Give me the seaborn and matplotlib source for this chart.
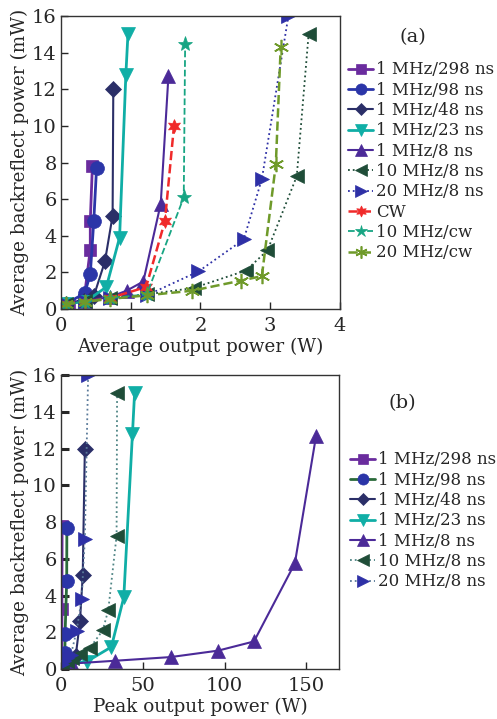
import matplotlib
matplotlib.use("Agg")
import seaborn as sns
from matplotlib import pyplot as plt

sns.set_style("ticks")
plt.rcParams["font.family"] = ["DejaVu Serif"]
plt.rcParams["font.size"] = 12
plt.rcParams["xtick.direction"] = "in"
plt.rcParams["ytick.direction"] = "in"

LABELS = ["1 MHz/298 ns", "1 MHz/98 ns", "1 MHz/48 ns", "1 MHz/23 ns", "1 MHz/8 ns",
          "10 MHz/8 ns", "20 MHz/8 ns", "CW", "10 MHz/cw", "20 MHz/cw"]

# (a) average output power (W) vs average backreflect power (mW)
avg_298 = [0.06, 0.12, 0.33, 0.42, 0.42, 0.45]
br_298 = [0.3, 0.3, 0.5, 3.25, 4.8, 7.8]
avg_98 = [0.07, 0.34, 0.42, 0.47, 0.51]
br_98 = [0.3, 0.85, 1.9, 4.8, 7.7]
avg_48 = [0.07, 0.33, 0.47, 0.63, 0.74, 0.75]
br_48 = [0.3, 0.45, 0.7, 2.6, 5.1, 12.0]
avg_23 = [0.07, 0.35, 0.65, 0.84, 0.93, 0.96]
br_23 = [0.3, 0.4, 1.2, 3.9, 12.8, 15.0]
avg_8 = [0.07, 0.34, 0.7, 0.94, 1.18, 1.43, 1.54]
br_8 = [0.3, 0.45, 0.65, 1.0, 1.5, 5.75, 12.7]
avg_10m8 = [0.07, 0.35, 0.7, 1.23, 1.9, 2.65, 2.96, 3.38, 3.55]
br_10m8 = [0.3, 0.45, 0.6, 0.8, 1.15, 2.1, 3.2, 7.25, 15.0]
avg_20m8 = [0.07, 0.35, 0.7, 1.23, 1.97, 2.62, 2.88, 3.26]
br_20m8 = [0.3, 0.45, 0.6, 0.75, 2.05, 3.8, 7.1, 16.0]
avg_cw = [0.07, 0.35, 0.7, 1.22, 1.49, 1.62]
br_cw = [0.3, 0.4, 0.6, 1.2, 4.8, 10.0]
avg_10cw = [0.07, 0.35, 0.7, 1.23, 1.76, 1.78]
br_10cw = [0.3, 0.4, 0.6, 0.8, 6.1, 14.5]
avg_20cw = [0.07, 0.35, 0.7, 1.23, 1.88, 2.58, 2.88, 3.08, 3.15]
br_20cw = [0.25, 0.4, 0.55, 0.75, 1.0, 1.55, 1.8, 7.9, 14.3]

# (b) peak output power (W), same backreflect values
pk_298 = [0.2, 0.4, 0.5, 0.6, 0.6, 0.7]
pk_98 = [0.7, 2.4, 2.5, 3.5, 3.6]
pk_48 = [1.2, 5.7, 9.0, 11.6, 13.3, 14.6]
pk_23 = [3.2, 15.7, 30.8, 38.4, 43.7, 45.0]
pk_8 = [7, 33, 67, 96, 118, 143, 156]
pk_10m8 = [0.7, 3.5, 7.0, 11.5, 17.7, 25.5, 28.9, 34.0, 34.3]
pk_20m8 = [0.35, 1.7, 3.4, 6.0, 9.5, 12.6, 14.6, 16.6]

COLORS = ["#6a2c9e", "#2b35a8", "#2b2f68", "#10aea6", "#4b2a98",
          "#1f4d38", "#2e30a6", "#f02a2a", "#17a583", "#6f9a2a"]
MARKERS = ["s", "o", "D", "v", "^", "<", ">", (6, 1, 0), "*", (6, 2, 0)]
MSIZES = [9, 10, 8, 10, 10, 10, 10, 10, 11, 11]
LSTYLES = ["-", "-", "-", "-", "-", ":", ":", "--", "--", "--"]
LWIDTHS = [2, 2, 1.5, 2, 1.5, 1.3, 1.3, 1.8, 1.3, 1.8]
# line colours used in panel (b) (markers keep COLORS)
LINE_COLORS_B = ["#6a2c9e", "#2a6a3a", "#2b2f68", "#10aea6", "#4b2a98", "#4f8585", "#5a7a9a"]

xs_a = [avg_298, avg_98, avg_48, avg_23, avg_8, avg_10m8, avg_20m8, avg_cw, avg_10cw, avg_20cw]
ys_a = [br_298, br_98, br_48, br_23, br_8, br_10m8, br_20m8, br_cw, br_10cw, br_20cw]
xs_b = [pk_298, pk_98, pk_48, pk_23, pk_8, pk_10m8, pk_20m8]
ys_b = ys_a[:7]

fig = plt.figure(figsize=(4.97, 7.19), dpi=100)
ax_a = fig.add_axes([0.1227, 0.5702, 0.5614, 0.4075])
ax_b = fig.add_axes([0.1227, 0.0695, 0.5594, 0.4089])


def draw(ax, xs, ys, line_colors):
    handles = []
    for i, (x, y) in enumerate(zip(xs, ys)):
        sns.lineplot(x=x, y=y, ax=ax, sort=False, estimator=None,
                     color=line_colors[i], linestyle=LSTYLES[i], linewidth=LWIDTHS[i],
                     marker=MARKERS[i], markersize=MSIZES[i],
                     markerfacecolor=COLORS[i], markeredgecolor=COLORS[i],
                     markeredgewidth=1.2 if i == 9 else 0.5)
        handles.append(ax.lines[-1])
    for s in ax.spines.values():
        s.set_visible(True)
        s.set_color("#333333")
        s.set_linewidth(1.0)
    ax.set_ylim(0, 16)
    ax.set_yticks(range(0, 17, 2))
    ax.tick_params(labelsize=14, length=5, width=1)
    ax.tick_params(axis="x", pad=6)
    ax.tick_params(axis="y", pad=3)
    ax.set_ylabel("Average backreflect power (mW)", fontsize=13.2, labelpad=2)
    return handles


h_a = draw(ax_a, xs_a, ys_a, COLORS)
ax_a.set_xlim(0, 4)
ax_a.set_xticks([0, 1, 2, 3, 4])
ax_a.set_xlabel("Average output power (W)", fontsize=13.2, labelpad=2)
ax_a.legend(h_a, LABELS, loc="upper left", bbox_to_anchor=(1.03, 0.845), frameon=False,
            fontsize=12, handlelength=1.5, handletextpad=0.15, labelspacing=0.2,
            borderaxespad=0, borderpad=0, markerscale=0.8)
fig.text(0.83, 0.948, "(a)", fontsize=14, ha="center", va="center")

h_b = draw(ax_b, xs_b, ys_b, LINE_COLORS_B)
ax_b.set_xlim(0, 170)
ax_b.set_xticks([0, 50, 100, 150])
ax_b.tick_params(axis="y", width=2.2, length=6)
ax_b.set_xlabel("Peak output power (W)", fontsize=13.2, labelpad=2)
ax_b.legend(h_b, LABELS[:7], loc="upper left", bbox_to_anchor=(1.04, 0.74), frameon=False,
            fontsize=12, handlelength=1.5, handletextpad=0.15, labelspacing=0.2,
            borderaxespad=0, borderpad=0, markerscale=0.8)
fig.text(0.81, 0.44, "(b)", fontsize=14, ha="center", va="center")

fig.savefig("out.png", dpi=100)
